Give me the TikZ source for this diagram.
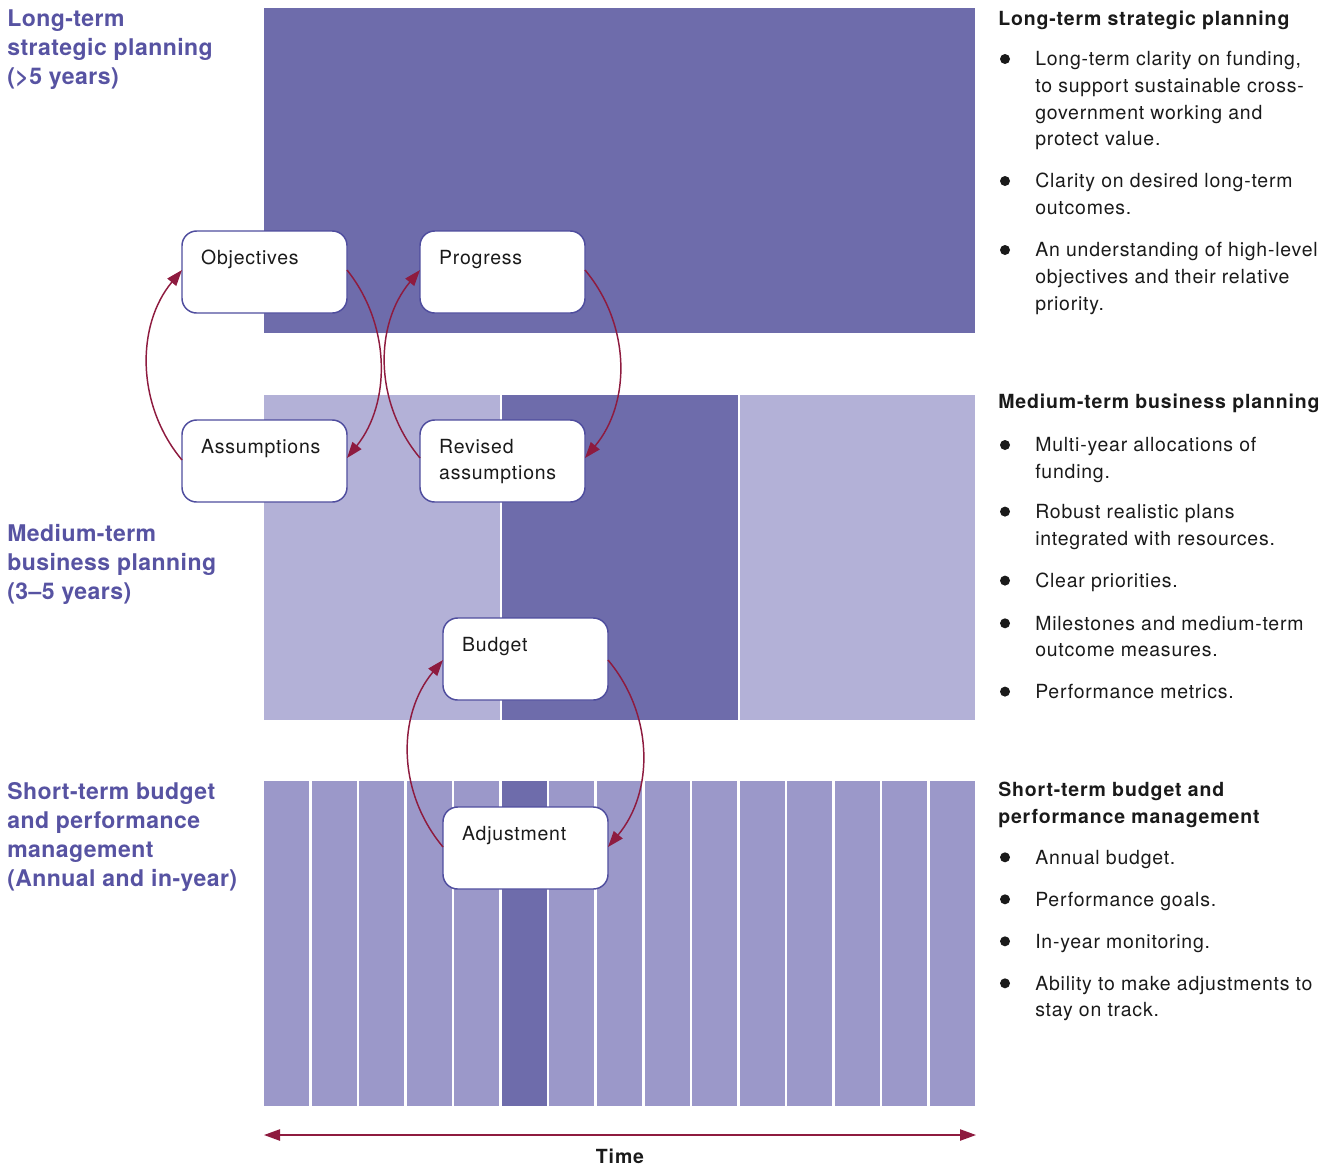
\documentclass[tikz,border=0pt]{standalone}
\usepackage{fontspec}
\usetikzlibrary{arrows.meta,calc}
\setmainfont{TeX Gyre Heros}
\newfontfamily\bodyff{TeX Gyre Heros}[LetterSpace=4]
\newfontfamily\headff{TeX Gyre Heros Bold}[LetterSpace=4.5]
\newfontfamily\labelff{TeX Gyre Heros Bold}[LetterSpace=2]
\definecolor{cDark}{HTML}{6E6CAB}
\definecolor{cMid}{HTML}{9B98C9}
\definecolor{cLight}{HTML}{B3B1D7}
\definecolor{cLabel}{HTML}{5753A2}
\definecolor{cBorder}{HTML}{4F4D9E}
\definecolor{cArrow}{HTML}{8E1B3F}
\definecolor{cText}{HTML}{1A1A1A}
\tikzset{
  pbox/.style={draw=cBorder, line width=1.1pt, fill=white, rounded corners=11pt,
    minimum width=123.75pt, minimum height=61.5pt, text width=95pt, align=left,
    inner xsep=14pt, inner ysep=0pt, anchor=north west, outer sep=0pt,
    font=\bodyff\fontsize{14.6pt}{20pt}\selectfont, text=cText},
  loopar/.style={draw=cArrow, line width=1.1pt, -{Triangle[length=12pt,width=8.5pt]}},
  timear/.style={draw=cArrow, line width=1pt, {Triangle[length=12pt,width=8.5pt]}-{Triangle[length=12pt,width=8.5pt]}},
  sidelabel/.style={anchor=north west, yshift=15.225pt, align=left, inner sep=0pt, text=cLabel,
    font=\labelff\fontsize{17.25pt}{21.75pt}\selectfont},
  headtxt/.style={anchor=north west, yshift=14pt, align=left, inner sep=0pt, text=cText,
    font=\headff\fontsize{14.6pt}{20pt}\selectfont},
  timetxt/.style={anchor=base, inner sep=0pt, text=cText,
    font=\headff\fontsize{14.6pt}{20pt}\selectfont},
  itemtxt/.style={anchor=north west, yshift=14pt, align=left, inner sep=0pt, text=cText,
    font=\bodyff\fontsize{14.6pt}{20pt}\selectfont},
  bul/.style={circle, fill=cText, inner sep=0pt, minimum size=7.5pt},
}
\begin{document}
\begin{tikzpicture}[x=0.75pt, y=-0.75pt]
\useasboundingbox (0,0) rectangle (1338,1168);
% long-term band
\fill[cDark] (264,8) rectangle (975,333);
% medium-term band
\fill[cLight] (264,395) rectangle (500,720);
\fill[cDark] (502,395) rectangle (737.5,720);
\fill[cLight] (739.5,395) rectangle (975,720);
% short-term bars
\foreach \i in {0,...,14}{
  \pgfmathsetmacro{\xa}{264+\i*47.57}
  \pgfmathsetmacro{\xb}{\xa+45.07}
  \ifnum\i=5
    \fill[cDark] (\xa,781) rectangle (\xb,1106);
  \else
    \fill[cMid] (\xa,781) rectangle (\xb,1106);
  \fi
}
% side labels
\node[sidelabel] (l1) at (7,26) {\strut Long-term\\strategic planning\\(>5 years)};
\node[sidelabel] (l2) at (7,541) {\strut Medium-term\\business planning\\(3–5 years)};
\node[sidelabel] (l3) at (7,799) {\strut Short-term budget\\and performance\\management\\(Annual and in-year)};
% boxes
\node[pbox] (obj) at (182,231) {\strut Objectives\\\strut};
\node[pbox] (prog) at (420,231) {\strut Progress\\\strut};
\node[pbox] (ass) at (182,420) {\strut Assumptions\\\strut};
\node[pbox] (rev) at (420,420) {\strut Revised\\\strut assumptions};
\node[pbox] (bud) at (443,618) {\strut Budget\\\strut};
\node[pbox] (adj) at (443,807) {\strut Adjustment\\\strut};
% loop arrows
\draw[loopar] ($(obj.north east)+(0,39)$) .. controls +(44,55) and +(44,-55) .. ($(ass.north east)+(0,38)$);
\draw[loopar] ($(ass.north west)+(0,40)$) .. controls +(-46,-55) and +(-46,55) .. ($(obj.north west)+(0,39)$);
\draw[loopar] ($(rev.north west)+(0,38)$) .. controls +(-46,-55) and +(-46,55) .. ($(prog.north west)+(0,39)$);
\draw[loopar] ($(prog.north east)+(0,39)$) .. controls +(46,55) and +(46,-55) .. ($(rev.north east)+(0,38)$);
\draw[loopar] ($(bud.north east)+(0,42)$) .. controls +(46,55) and +(46,-55) .. ($(adj.north east)+(0,40)$);
\draw[loopar] ($(adj.north west)+(0,40)$) .. controls +(-46,-55) and +(-46,55) .. ($(bud.north west)+(0,42)$);
% time axis
\coordinate (tl) at (264,1135);
\coordinate (tr) at (976,1135);
\draw[timear] (tl) -- (tr);
\node[timetxt] (time) at (620,1163) {Time};
% right column: long-term
\node[headtxt] (h1) at (998,25) {\strut Long-term strategic planning};
\node[bul] (b11) at (1005,59) {};
\node[itemtxt] (t11) at (1035,65.7) {\strut Long-term clarity on funding,\\to support sustainable cross-\\government working and\\protect value.};
\node[bul] (b12) at (1005,181) {};
\node[itemtxt] (t12) at (1035,187.7) {\strut Clarity on desired long-term\\outcomes.};
\node[bul] (b13) at (1005,250) {};
\node[itemtxt] (t13) at (1035,256.7) {\strut An understanding of high-level\\objectives and their relative\\priority.};
% right column: medium-term
\node[headtxt] (h2) at (998,408.3) {\strut Medium-term business planning};
\node[bul] (b21) at (1005,445) {};
\node[itemtxt] (t21) at (1035,451.7) {\strut Multi-year allocations of\\funding.};
\node[bul] (b22) at (1005,511.6) {};
\node[itemtxt] (t22) at (1035,518.3) {\strut Robust realistic plans\\integrated with resources.};
\node[bul] (b23) at (1005,580.6) {};
\node[itemtxt] (t23) at (1035,587.3) {\strut Clear priorities.};
\node[bul] (b24) at (1005,623.3) {};
\node[itemtxt] (t24) at (1035,630) {\strut Milestones and medium-term\\outcome measures.};
\node[bul] (b25) at (1005,691.6) {};
\node[itemtxt] (t25) at (1035,698.3) {\strut Performance metrics.};
% right column: short-term
\node[headtxt] (h3) at (998,796.5) {\strut Short-term budget and\\performance management};
\node[bul] (b31) at (1005,857.3) {};
\node[itemtxt] (t31) at (1035,864) {\strut Annual budget.};
\node[bul] (b32) at (1005,899.3) {};
\node[itemtxt] (t32) at (1035,906) {\strut Performance goals.};
\node[bul] (b33) at (1005,941.3) {};
\node[itemtxt] (t33) at (1035,948) {\strut In-year monitoring.};
\node[bul] (b34) at (1005,983.3) {};
\node[itemtxt] (t34) at (1035,990) {\strut Ability to make adjustments to\\stay on track.};
\end{tikzpicture}
\end{document}
